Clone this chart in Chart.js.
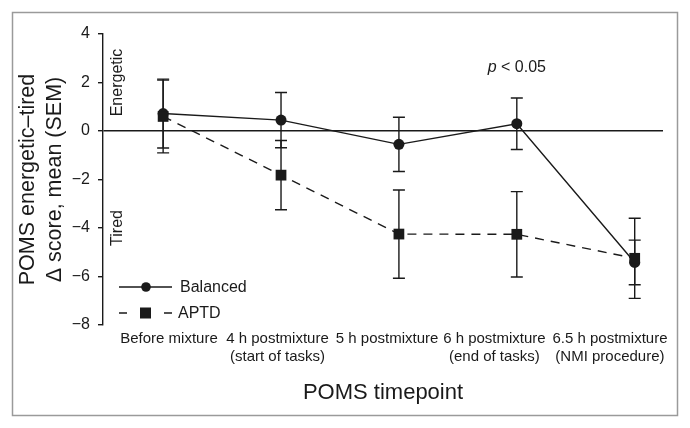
<!DOCTYPE html>
<html>
<head>
<meta charset="utf-8">
<script src="https://cdn.jsdelivr.net/npm/chart.js@4"></script>
<style>
  html, body { margin: 0; padding: 0; background: #fff; }
  #wrap { width: 690px; height: 428px; }
</style>
</head>
<body>
<div id="wrap"><canvas id="poms" width="690" height="428"></canvas></div>
<script>
'use strict';

// ---- data ----
const timepoints = [
  'Before mixture',
  ['4 h postmixture', '(start of tasks)'],
  '5 h postmixture',
  ['6 h postmixture', '(end of tasks)'],
  ['6.5 h postmixture', '(NMI procedure)']
];
const balancedMean = [0.72, 0.45, -0.55, 0.30, -5.42];
const balancedSem  = [1.42, 1.14, 1.12, 1.06, 0.92];
const aptdMean = [0.60, -1.82, -4.25, -4.26, -5.25];
const aptdSem  = [1.50, 1.43, 1.82, 1.76, 1.65];
const yTicks = [-8, -6, -4, -2, 0, 2, 4];

// where the timepoint labels sit along the x axis (labels are not centred on the points)
const labelPos = [0.05, 0.97, 1.9, 2.81, 3.79];

const ink = '#1a1a1a';
const fontFam = "'Liberation Sans', Arial, Helvetica, sans-serif";
Chart.defaults.font.family = fontFam;
Chart.defaults.color = ink;

// error bars (mean +/- SEM)
const errorBars = {
  id: 'errorBars',
  beforeDatasetsDraw(chart) {
    const {ctx, scales: {x, y}} = chart;
    ctx.save();
    ctx.strokeStyle = ink;
    ctx.lineWidth = 1.4;
    chart.data.datasets.forEach(ds => {
      ds.sem.forEach((s, i) => {
        const px = x.getPixelForValue(i);
        const top = y.getPixelForValue(ds.mean[i] + s);
        const bot = y.getPixelForValue(ds.mean[i] - s);
        ctx.beginPath();
        ctx.moveTo(px, top); ctx.lineTo(px, bot);
        ctx.moveTo(px - 6, top); ctx.lineTo(px + 6, top);
        ctx.moveTo(px - 6, bot); ctx.lineTo(px + 6, bot);
        ctx.stroke();
      });
    });
    ctx.restore();
  }
};

// frame, side labels, p value and legend
const extras = {
  id: 'extras',
  beforeDraw(chart) {
    const ctx = chart.ctx;
    ctx.save();
    ctx.strokeStyle = '#9a9a9a';
    ctx.lineWidth = 1.5;
    ctx.strokeRect(12.5, 12.5, 665, 403);
    ctx.restore();
  },
  afterDraw(chart) {
    const {ctx, chartArea: area, scales: {x, y}} = chart;
    ctx.save();
    ctx.fillStyle = ink;
    ctx.strokeStyle = ink;

    // Energetic / Tired
    ctx.font = '16px ' + fontFam;
    ctx.textAlign = 'center';
    ctx.textBaseline = 'middle';
    [['Energetic', 2], ['Tired', -4]].forEach(([t, v]) => {
      ctx.save();
      ctx.translate(area.left + 15, y.getPixelForValue(v));
      ctx.rotate(-Math.PI / 2);
      ctx.fillText(t, 0, 0);
      ctx.restore();
    });

    // p < 0.05
    ctx.textAlign = 'left';
    ctx.font = 'italic 16px ' + fontFam;
    const wp = ctx.measureText('p').width;
    ctx.font = '16px ' + fontFam;
    const rest = ' < 0.05';
    const wr = ctx.measureText(rest).width;
    let px = x.getPixelForValue(3) - (wp + wr) / 2;
    const py = y.getPixelForValue(2.6);
    ctx.font = 'italic 16px ' + fontFam;
    ctx.fillText('p', px, py);
    ctx.font = '16px ' + fontFam;
    ctx.fillText(rest, px + wp, py);

    // legend
    const x0 = area.left + 16;
    const yb = area.bottom - 38;
    const ya = area.bottom - 12;
    ctx.lineWidth = 1.4;
    ctx.beginPath();
    ctx.moveTo(x0, yb); ctx.lineTo(x0 + 53, yb);
    ctx.moveTo(x0, ya); ctx.lineTo(x0 + 8, ya);
    ctx.moveTo(x0 + 45, ya); ctx.lineTo(x0 + 53, ya);
    ctx.stroke();
    ctx.beginPath();
    ctx.arc(x0 + 27, yb, 4.8, 0, Math.PI * 2);
    ctx.fill();
    ctx.fillRect(x0 + 21, ya - 5.5, 11, 11);
    ctx.fillText('Balanced', x0 + 61, yb + 1);
    ctx.fillText('APTD', x0 + 59, ya + 1);
    ctx.restore();
  }
};

new Chart(document.getElementById('poms'), {
  type: 'line',
  data: {
    datasets: [
      {
        label: 'Balanced',
        data: balancedMean.map((v, i) => ({x: i, y: v})),
        mean: balancedMean,
        sem: balancedSem,
        borderColor: ink,
        borderWidth: 1.4,
        pointStyle: 'circle',
        pointRadius: 5.5,
        pointBackgroundColor: ink,
        pointBorderColor: ink,
        pointBorderWidth: 0,
        order: 1
      },
      {
        label: 'APTD',
        data: aptdMean.map((v, i) => ({x: i, y: v})),
        mean: aptdMean,
        sem: aptdSem,
        borderColor: ink,
        borderWidth: 1.4,
        borderDash: [9, 7],
        pointStyle: 'rect',
        pointRadius: 7.6,
        pointBackgroundColor: ink,
        pointBorderColor: ink,
        pointBorderWidth: 0,
        order: 0
      }
    ]
  },
  options: {
    responsive: false,
    animation: false,
    layout: { padding: { left: 0, right: 27, top: 34, bottom: 0 } },
    plugins: {
      legend: { display: false },
      tooltip: { enabled: false }
    },
    scales: {
      x: {
        type: 'linear',
        min: -0.51,
        max: 4.24,
        border: { display: false },
        grid: { display: false, drawTicks: false },
        afterBuildTicks: s => { s.ticks = labelPos.map(v => ({value: v})); },
        afterFit: s => { s.height = 103; },
        ticks: {
          autoSkip: false,
          maxRotation: 0,
          minRotation: 0,
          padding: 5,
          font: { size: 15, lineHeight: 1.2 },
          color: ink,
          callback: (v, i) => timepoints[i]
        },
        title: {
          display: true,
          text: 'POMS timepoint',
          font: { size: 22, lineHeight: 1.2 },
          color: ink,
          padding: { top: 0, bottom: 22 }
        }
      },
      y: {
        min: -8,
        max: 4,
        border: { display: true, color: ink, width: 1.4 },
        grid: {
          drawOnChartArea: true,
          color: c => (c.tick && c.tick.value === 0 ? ink : 'rgba(0,0,0,0)'),
          lineWidth: 1.4,
          tickColor: ink,
          tickLength: 5,
          tickWidth: 1.4
        },
        afterBuildTicks: s => { s.ticks = yTicks.map(v => ({value: v})); },
        afterFit: s => { s.width = 103; },
        ticks: {
          padding: 8,
          font: { size: 16 },
          color: ink,
          callback: v => String(v).replace('-', '\u2212')
        },
        title: {
          display: true,
          text: ['POMS energetic\u2013tired', '\u0394 score, mean (SEM)'],
          font: { size: 21.5, lineHeight: '27px' },
          color: ink,
          padding: { top: 14.5, bottom: 0 }
        }
      }
    }
  },
  plugins: [errorBars, extras]
});
</script>
</body>
</html>
